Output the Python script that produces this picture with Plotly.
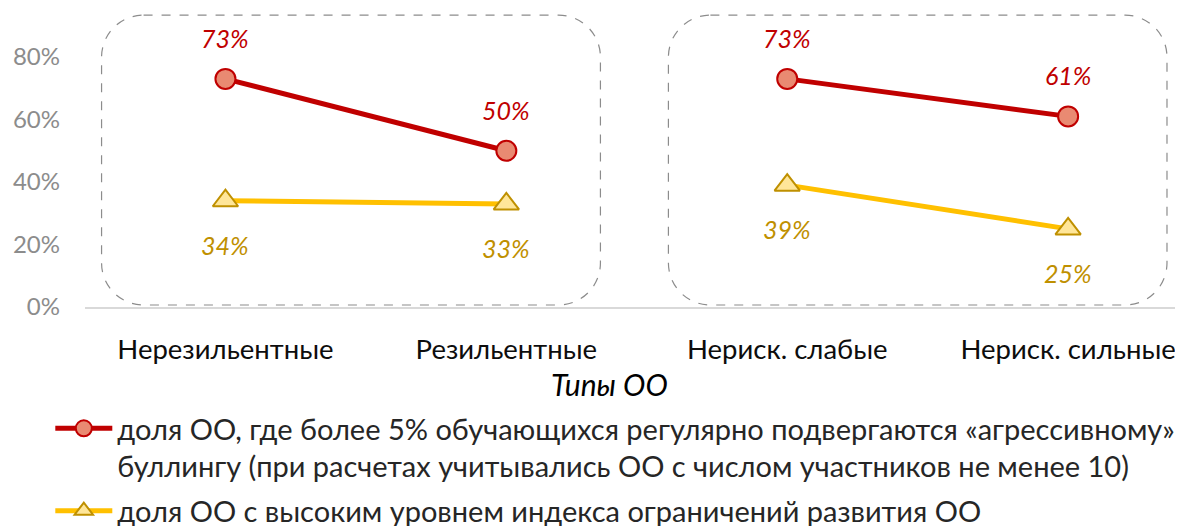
import plotly.graph_objects as go

categories = ["Нерезильентные", "Резильентные", "Нериск. слабые", "Нериск. сильные"]
bullying = [0.73, 0.50, 0.73, 0.61]
limits = [0.34, 0.33, 0.39, 0.25]
groups = [[0, 1], [2, 3]]
series_names = [
    "доля ОО, где более 5% обучающихся регулярно подвергаются «агрессивному»<br>буллингу (при расчетах учитывались ОО с числом участников не менее 10)",
    "доля ОО с высоким уровнем индекса ограничений развития ОО",
]
axis_title = "Типы ОО"
y_ticks = [0, 0.2, 0.4, 0.6, 0.8]

FONT = "Lato"
RED, RED_FILL = "#C00000", "#E98A72"
YEL, YEL_FILL, YEL_EDGE, YEL_TEXT = "#FFC000", "#FFE699", "#BF9000", "#BF9000"

fig = go.Figure()
for s, (vals, name, lc, fc, ec, sym) in enumerate([
    (bullying, series_names[0], RED, RED_FILL, RED, "circle"),
    (limits, series_names[1], YEL, YEL_FILL, YEL_EDGE, "triangle-up"),
]):
    for g, idx in enumerate(groups):
        fig.add_trace(go.Scatter(
            x=idx, y=[vals[i] for i in idx], mode="lines+markers",
            name=name, legendgroup=name, showlegend=(g == 0),
            line=dict(color=lc, width=5),
            marker=dict(symbol=sym, size=20 if sym == "circle" else 22, color=fc,
                        line=dict(color=ec, width=2)),
            cliponaxis=False,
        ))

for i, v in enumerate(bullying):
    fig.add_annotation(x=i, y=v, text=f"{round(v*100)}%", showarrow=False, yshift=41,
                       font=dict(family=FONT, size=25, color=RED, style="italic"))
for i, v in enumerate(limits):
    fig.add_annotation(x=i, y=v, text=f"{round(v*100)}%", showarrow=False, yshift=-44,
                       font=dict(family=FONT, size=25, color=YEL_TEXT, style="italic"))


def rounded_rect(x0, x1, y0, y1, rx, ry):
    k = 0.5523
    return (f"M{x0+rx},{y1} L{x1-rx},{y1} "
            f"C{x1-rx+k*rx},{y1} {x1},{y1-ry+k*ry} {x1},{y1-ry} "
            f"L{x1},{y0+ry} "
            f"C{x1},{y0+ry-k*ry} {x1-rx+k*rx},{y0} {x1-rx},{y0} "
            f"L{x0+rx},{y0} "
            f"C{x0+rx-k*rx},{y0} {x0},{y0+ry-k*ry} {x0},{y0+ry} "
            f"L{x0},{y1-ry} "
            f"C{x0},{y1-ry+k*ry} {x0+rx-k*rx},{y1} {x0+rx},{y1} Z")


rx, ry = 42 / 281, 42 / 312.5
for x0, x1 in [(-0.441, 1.335), (1.577, 3.352)]:
    fig.add_shape(type="path", xref="x", yref="y",
                  path=rounded_rect(x0, x1, 0.0064, 0.934, rx, ry),
                  line=dict(color="#8C8C8C", width=1.2, dash="dash"), layer="below")

fig.add_annotation(xref="paper", yref="paper", x=0.478, y=-0.259, xanchor="center", yanchor="middle",
                   text=axis_title, showarrow=False,
                   font=dict(family=FONT, size=30, color="#000000", style="italic"))

fig.update_layout(
    width=1175, height=518,
    margin=dict(l=76.5, r=0, t=2, b=219, autoexpand=False),
    paper_bgcolor="white", plot_bgcolor="white",
    font=dict(family=FONT),
    showlegend=True,
    legend=dict(x=-0.0316, y=-0.323, xanchor="left", yanchor="top", valign="top",
                font=dict(family=FONT, size=29, color="#262626"),
                tracegroupgap=4, itemwidth=57, bgcolor="rgba(0,0,0,0)"),
    xaxis=dict(range=[-0.5, 3.409], tickvals=list(range(len(categories))), ticktext=categories,
               showgrid=False, zeroline=False, showline=True, linecolor="#D9D9D9", linewidth=1.5,
               tickfont=dict(family=FONT, size=27.5, color="#0D0D0D"), ticks="", ticklabelstandoff=17,
               automargin=False),
    yaxis=dict(range=[0, 0.9504], tickvals=y_ticks, tickformat=".0%",
               showgrid=False, zeroline=False, showline=False, ticks="",
               tickfont=dict(family=FONT, size=24, color="#8C8C8C"), ticklabelstandoff=24,
               automargin=False),
)

fig.write_html("out.html")
